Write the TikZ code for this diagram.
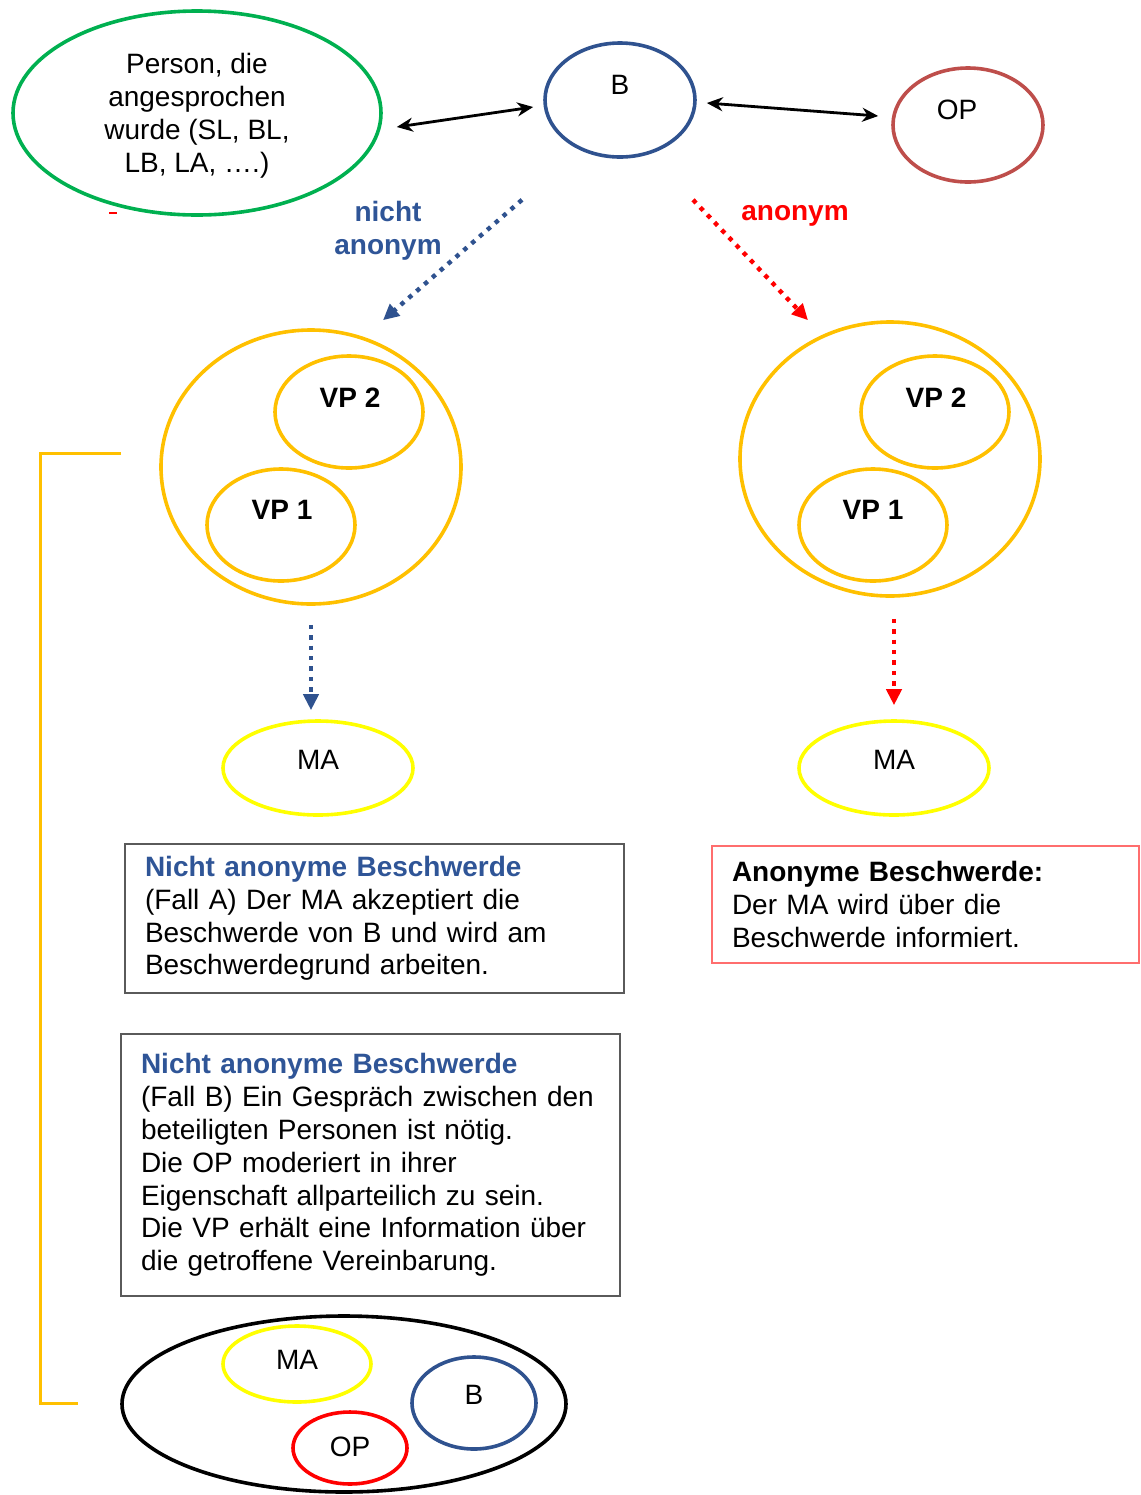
\documentclass[tikz,border=0pt]{standalone}
\usepackage{fontspec}
\setmainfont{Liberation Sans}
\usetikzlibrary{shapes.geometric,arrows.meta,calc}
\definecolor{bblue}{RGB}{47,82,143}
\definecolor{tblue}{RGB}{47,85,151}
\definecolor{opred}{RGB}{190,78,75}
\definecolor{pgreen}{RGB}{0,176,80}
\definecolor{vporange}{RGB}{255,192,0}
\definecolor{mayellow}{RGB}{255,255,0}
\definecolor{pred}{RGB}{255,0,0}
\definecolor{boxgray}{RGB}{90,90,90}
\definecolor{anonred}{RGB}{255,110,110}
\begin{document}
\begin{tikzpicture}[x=0.5pt,y=-0.5pt,
  ell/.style={ellipse, draw, line width=1.8pt, inner sep=0pt},
  txt/.style={font=\fontsize{14}{16.5}\selectfont, inner sep=0pt, align=center},
  btxt/.style={font=\fontsize{14}{16.5}\selectfont\bfseries, inner sep=0pt, align=center},
  textbox/.style={draw, line width=1pt, inner sep=0pt, align=left, font=\fontsize{14}{16.4}\selectfont},
  dblarrow/.style={{Stealth[width=7pt,length=8pt]}-{Stealth[width=7pt,length=8pt]}, line width=1.4pt, black},
  dotarrow/.style={line width=2.2pt, dash pattern=on 2.2pt off 3pt, -{Triangle[width=7.5pt,length=8pt]}}
]
\useasboundingbox (0,0) rectangle (1141,1495);

% top row
\node[ell, draw=pgreen, minimum width=184pt, minimum height=102pt] (P) at (197,113) {};
\node[txt] (Pt) at (197,116) {Person, die\\angesprochen\\wurde (SL, BL,\\LB, LA, ….)};
\node[ell, draw=bblue, minimum width=75pt, minimum height=57pt] (B) at (620,100) {};
\node[txt] (Bt) at (620,85) {B};
\node[ell, draw=opred, minimum width=75pt, minimum height=57pt] (OP) at (968,125) {};
\node[txt] (OPt) at (957,110) {OP};
\draw[pred, line width=1pt] (109,213) -- (117,213);

\draw[dblarrow] ([shift={(14,14)}]P.east) -- ([shift={(-10,7)}]B.west);
\draw[dblarrow] ([shift={(10,3)}]B.east) -- ([shift={(-13,-9)}]OP.west);

% labels
\node[btxt, text=tblue] (nalab) at (388,231) {nicht\\anonym};
\node[btxt, text=pred] (alab) at (795,216) {anonym};

% VP groups
\node[ell, draw=vporange, minimum width=150pt, minimum height=137pt] (L) at (311,467) {};
\node[ell, draw=vporange, minimum width=74pt, minimum height=56pt] (L2) at (349,412) {};
\node[btxt] (L2t) at (350,398) {VP 2};
\node[ell, draw=vporange, minimum width=74pt, minimum height=56pt] (L1) at (281,525) {};
\node[btxt] (L1t) at (282,510) {VP 1};

\node[ell, draw=vporange, minimum width=150pt, minimum height=137pt] (R) at (890,459) {};
\node[ell, draw=vporange, minimum width=74pt, minimum height=56pt] (R2) at (935,412) {};
\node[btxt] (R2t) at (936,398) {VP 2};
\node[ell, draw=vporange, minimum width=74pt, minimum height=56pt] (R1) at (873,525) {};
\node[btxt] (R1t) at (873,510) {VP 1};

\draw[dotarrow, bblue] ([shift={(-98,41)}]B.south) -- ([shift={(72,-8)}]L.north);
\draw[dotarrow, pred] ([shift={(73,41)}]B.south) -- ([shift={(-82,0)}]R.north);

% MA
\node[ell, draw=mayellow, minimum width=95pt, minimum height=47pt] (MAL) at (318,768) {};
\node[txt] (MALt) at (318,760) {MA};
\node[ell, draw=mayellow, minimum width=95pt, minimum height=47pt] (MAR) at (894,768) {};
\node[txt] (MARt) at (894,760) {MA};

\draw[dotarrow, bblue] ([shift={(0,19)}]L.south) -- ([shift={(-7,-9)}]MAL.north);
\draw[dotarrow, pred] ([shift={(4,21)}]R.south) -- ([shift={(0,-14)}]MAR.north);

% text boxes
\node[textbox, draw=boxgray, minimum width=249.5pt, minimum height=74.5pt, text width=229.5pt] (boxA) at (374.5,918.5)
  {\textcolor{tblue}{\bfseries Nicht anonyme Beschwerde}\\(Fall A) Der MA akzeptiert die\\Beschwerde von B und wird am\\Beschwerdegrund arbeiten.};
\node[textbox, draw=anonred, minimum width=213.5pt, minimum height=58.5pt, text width=193.5pt] (boxAn) at (925.5,904.5)
  {{\bfseries Anonyme Beschwerde:}\\Der MA wird über die\\Beschwerde informiert.};
\node[textbox, draw=boxgray, minimum width=249.5pt, minimum height=131pt, text width=229.5pt] (boxB) at (370.5,1165)
  {\textcolor{tblue}{\bfseries Nicht anonyme Beschwerde}\\(Fall B) Ein Gespräch zwischen den\\beteiligten Personen ist nötig.\\Die OP moderiert in ihrer\\Eigenschaft allparteilich zu sein.\\Die VP erhält eine Information über\\die getroffene Vereinbarung.};

% bottom group
\node[ell, draw=black, minimum width=222pt, minimum height=88pt] (BOT) at (344,1404) {};
\node[ell, draw=mayellow, minimum width=74pt, minimum height=38pt] (bMA) at (297,1364) {};
\node[txt] (bMAt) at (297,1360) {MA};
\node[ell, draw=bblue, minimum width=62pt, minimum height=46pt] (bB) at (474,1403) {};
\node[txt] (bBt) at (474,1395) {B};
\node[ell, draw=pred, minimum width=57pt, minimum height=36pt] (bOP) at (350,1448) {};
\node[txt] (bOPt) at (350,1447) {OP};

% bracket
\coordinate (brT) at (121,453);
\coordinate (brB) at (78,1403);
\draw[vporange, line width=1.5pt] (brT) -| ([shift={(-38,0)}]brB) -- (brB);
\end{tikzpicture}
\end{document}
